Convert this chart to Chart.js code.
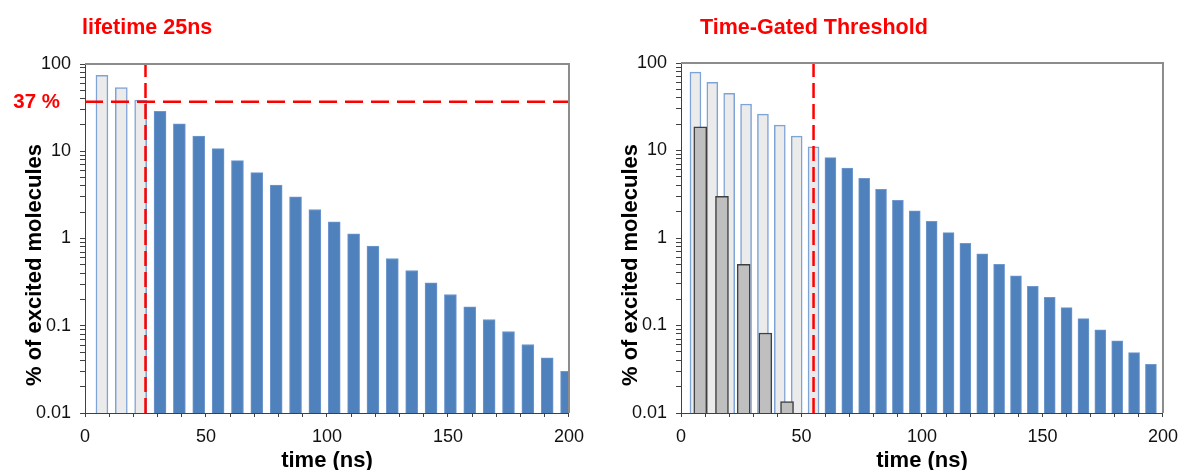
<!DOCTYPE html>
<html>
<head>
<meta charset="utf-8">
<script src="https://cdn.jsdelivr.net/npm/chart.js@4.4.1/dist/chart.umd.min.js"></script>
<style>
  body { margin: 0; background: #fff; }
  #wrap { position: relative; width: 1187px; height: 470px; }
  canvas { position: absolute; top: 0; }
</style>
</head>
<body>
<div id="wrap">
  <canvas id="left" width="593" height="470" style="left:0"></canvas>
  <canvas id="right" width="594" height="470" style="left:593px"></canvas>
</div>
<script>
// left panel: 25 ns lifetime, one bar every 8 ns
const leftEarlyTimes = [7, 15, 23];
const leftEarlyValues = [74, 53.5, 38.5];
const leftLateTimes = [31, 39, 47, 55, 63, 71, 79, 87, 95, 103, 111, 119, 127, 135, 143, 151, 159, 167, 175, 183, 191, 199];
const leftLateValues = [28.6, 20.6, 14.9, 10.7, 7.8, 5.7, 4.1, 3.0, 2.15, 1.55, 1.13, 0.82, 0.59, 0.43, 0.31, 0.228, 0.165, 0.118, 0.086, 0.061, 0.043, 0.030];
const leftGate = 25;
const leftThreshold = 37;

// right panel: long lifetime every 7 ns, short lifetime background in grey
const rightEarlyTimes = [6, 13, 20, 27, 34, 41, 48, 55];
const rightEarlyValues = [78.5, 60, 45, 34, 26, 19.5, 14.6, 11];
const rightLateTimes = [62, 69, 76, 83, 90, 97, 104, 111, 118, 125, 132, 139, 146, 153, 160, 167, 174, 181, 188, 195];
const rightLateValues = [8.3, 6.3, 4.8, 3.6, 2.7, 2.05, 1.55, 1.15, 0.87, 0.66, 0.50, 0.37, 0.28, 0.21, 0.16, 0.12, 0.089, 0.067, 0.049, 0.036];
const shortTimes = [8, 17, 26, 35, 44];
const shortValues = [18.6, 3.0, 0.5, 0.082, 0.0135];
const rightGate = 55;

// axes
const xTickLabels = [0, 50, 100, 150, 200];
const xMinorStep = 10;
const yTickLabels = [0.01, 0.1, 1, 10, 100];

const FONT = "'Liberation Sans', Arial, sans-serif";

const pts = (xs, ys) => xs.map((x, i) => ({ x: x, y: ys[i] }));

function lightBars(xs, ys, thick) {
  return { data: pts(xs, ys), backgroundColor: '#ebebeb', borderColor: '#7ea3d6',
    borderWidth: 1.5, barThickness: thick, grouped: false, order: 2 };
}
function darkBars(xs, ys, thick) {
  return { data: pts(xs, ys), backgroundColor: '#4f81bd', borderColor: '#6f98cf',
    borderWidth: 1, barThickness: thick, grouped: false, order: 3 };
}
function redLine(points, dash) {
  return { type: 'line', data: points, borderColor: '#ff0000', borderWidth: 2.5,
    borderDash: dash, pointRadius: 0, fill: false, order: 0 };
}

function yMinorTicks() {
  const out = [];
  for (let i = 0; i < yTickLabels.length - 1; i++) {
    for (let m = 1; m < 10; m++) out.push(+(yTickLabels[i] * m).toPrecision(3));
  }
  out.push(yTickLabels[yTickLabels.length - 1]);
  return out;
}

function scalesFor(yWidth) {
  return {
    x: {
      type: 'linear', min: 0, max: 200, offset: false,
      ticks: {
        stepSize: xMinorStep, autoSkip: false, maxRotation: 0, padding: 9, color: '#111',
        font: { family: FONT, size: 18 },
        callback: v => xTickLabels.includes(v) ? String(v) : ''
      },
      grid: { offset: false, drawOnChartArea: false, tickLength: 4, color: '#404040' },
      border: { color: '#404040', width: 1 },
      afterFit: s => { s.height = 57; }
    },
    y: {
      type: 'logarithmic', min: 0.01, max: 100,
      afterBuildTicks: s => { s.ticks = yMinorTicks().map(v => ({ value: v })); },
      ticks: {
        autoSkip: false, padding: 9, color: '#111',
        font: { family: FONT, size: 18 },
        callback: v => yTickLabels.includes(+v.toPrecision(3)) ? String(+v.toPrecision(3)) : ''
      },
      grid: { drawOnChartArea: false, tickLength: 5, color: '#404040' },
      border: { color: '#404040', width: 1 },
      afterFit: s => { s.width = yWidth; }
    }
  };
}

// frame, titles and the 37 % label
const decor = {
  id: 'decor',
  afterDraw(chart, args, opts) {
    const { ctx, chartArea: a } = chart;
    ctx.save();
    ctx.strokeStyle = '#8c8c8c';
    ctx.lineWidth = 2;
    ctx.beginPath();
    ctx.moveTo(a.left, a.top);
    ctx.lineTo(a.right, a.top);
    ctx.lineTo(a.right, a.bottom);
    ctx.stroke();

    ctx.fillStyle = '#ff0000';
    ctx.font = 'bold 21.5px ' + FONT;
    ctx.textAlign = 'left';
    ctx.textBaseline = 'alphabetic';
    ctx.fillText(opts.title, opts.titleX, 34);

    if (opts.mark) {
      ctx.font = 'bold 20.5px ' + FONT;
      ctx.textAlign = 'right';
      ctx.textBaseline = 'middle';
      ctx.fillText(opts.mark, 60, chart.scales.y.getPixelForValue(leftThreshold) + 1);
    }

    ctx.fillStyle = '#000';
    ctx.font = 'bold 22px ' + FONT;
    ctx.textAlign = 'center';
    ctx.textBaseline = 'alphabetic';
    ctx.fillText('time (ns)', (a.left + a.right) / 2, 467);

    ctx.translate(a.left - 44, 265);
    ctx.rotate(-Math.PI / 2);
    ctx.fillText('% of excited molecules', 0, 0);
    ctx.restore();
  }
};

function makeChart(id, datasets, yWidth, padRight, padTop, decorOpts) {
  return new Chart(document.getElementById(id), {
    type: 'bar',
    data: { datasets: datasets },
    options: {
      responsive: false,
      animation: false,
      events: [],
      layout: { padding: { top: padTop, right: padRight, left: 0, bottom: 0 } },
      scales: scalesFor(yWidth),
      plugins: { legend: { display: false }, tooltip: { enabled: false }, decor: decorOpts }
    },
    plugins: [decor]
  });
}

makeChart('left', [
  redLine([{ x: leftGate, y: 0.01 }, { x: leftGate, y: 100 }], [15, 6]),
  redLine([{ x: 0, y: leftThreshold }, { x: 200, y: leftThreshold }], [18, 8]),
  lightBars(leftEarlyTimes, leftEarlyValues, 12),
  darkBars(leftLateTimes, leftLateValues, 12)
], 85, 23, 64, { title: 'lifetime 25ns', titleX: 82, mark: '37 %' });

makeChart('right', [
  redLine([{ x: rightGate, y: 0.01 }, { x: rightGate, y: 100 }], [15, 6]),
  { data: pts(shortTimes, shortValues), backgroundColor: '#bfbfbf', borderColor: '#3f3f3f',
    borderWidth: 1.5, barThickness: 13, grouped: false, order: 1 },
  lightBars(rightEarlyTimes, rightEarlyValues, 11),
  darkBars(rightLateTimes, rightLateValues, 11)
], 88, 18, 63, { title: 'Time-Gated Threshold', titleX: 107 });
</script>
</body>
</html>
